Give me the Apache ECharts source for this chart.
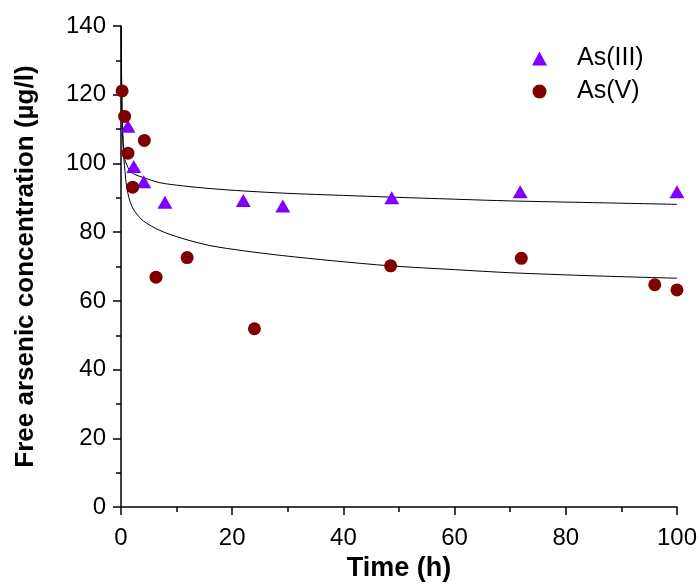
<!DOCTYPE html>
<html>
<head>
<meta charset="utf-8">
<script src="https://cdn.jsdelivr.net/npm/echarts@6/dist/echarts.min.js"></script>
<style>html,body{margin:0;padding:0;background:#fff}#c{width:700px;height:587px}</style>
</head>
<body>
<div id="c"></div>
<script>
// As(III) measured points [time h, concentration µg/l]
var as3Time = [1.25, 2.3, 4.1, 7.9, 22.0, 29.1, 48.7, 71.8, 100];
var as3Conc = [110.8, 99.1, 94.7, 88.7, 89.2, 87.6, 90.0, 91.8, 91.8];
// As(V) measured points
var as5Time = [0.2, 0.65, 1.25, 2.1, 4.2, 6.3, 11.9, 24.0, 48.5, 72.0, 96.0, 100];
var as5Conc = [121.1, 113.7, 103.0, 93.1, 106.7, 66.9, 72.6, 51.9, 70.2, 72.4, 64.7, 63.2];
// fitted curves
var fit3Time = [0.03, 0.1, 0.2, 0.4, 0.7, 1.0, 1.6, 2.5, 4, 7, 11, 16, 22, 30, 40, 48.7, 60, 70, 85, 100];
var fit3Conc = [140, 126, 116, 106, 101.2, 99.8, 97.8, 96.8, 95.9, 94.4, 93.5, 92.7, 92.0, 91.3, 90.7, 90.2, 89.6, 89.1, 88.6, 88.1];
var fit5Time = [0.03, 0.1, 0.2, 0.4, 0.7, 1.0, 1.6, 2.5, 4, 7, 11, 16, 22, 29, 38, 48.5, 60, 70, 85, 100];
var fit5Conc = [140, 124, 113, 104, 98, 93.5, 89, 86, 83.3, 80.5, 78.2, 76.1, 74.6, 73.2, 71.7, 70.2, 69.1, 68.2, 67.3, 66.6];

function pairs(xs, ys){ return xs.map(function(x,i){ return [x, ys[i]]; }); }

var chart = echarts.init(document.getElementById('c'), null, {renderer:'canvas'});
var font = 'Liberation Sans, Arial, sans-serif';
chart.setOption({
  animation:false,
  backgroundColor:'#fff',
  grid:{left:121, right:21, top:26, bottom:77, containLabel:false},
  legend:{
    orient:'vertical', left:527, top:41, itemGap:8, itemWidth:15, itemHeight:14,
    data:['As(III)','As(V)'],
    textStyle:{fontFamily:font, fontSize:25, color:'#000', padding:[0,0,0,25]}
  },
  xAxis:{
    type:'value', min:0, max:100, interval:20,
    name:'Time (h)', nameLocation:'middle', nameGap:37,
    nameTextStyle:{fontFamily:font, fontSize:27, fontWeight:'bold', color:'#000'},
    axisLine:{onZero:false, lineStyle:{color:'#000', width:1.5}},
    axisTick:{show:true, inside:false, length:8, lineStyle:{color:'#000', width:1.5}},
    minorTick:{show:true, splitNumber:2, length:5, lineStyle:{color:'#000', width:1.5}},
    axisLabel:{fontFamily:font, fontSize:24, color:'#000', margin:19},
    splitLine:{show:false}
  },
  yAxis:{
    type:'value', min:0, max:140, interval:20,
    name:'Free arsenic concentration (µg/l)', nameLocation:'middle', nameGap:82,
    nameTextStyle:{fontFamily:font, fontSize:26, fontWeight:'bold', color:'#000'},
    axisLine:{onZero:false, lineStyle:{color:'#000', width:1.5}},
    axisTick:{show:true, inside:false, length:8, lineStyle:{color:'#000', width:1.5}},
    minorTick:{show:true, splitNumber:2, length:5, lineStyle:{color:'#000', width:1.5}},
    axisLabel:{fontFamily:font, fontSize:24, color:'#000', margin:15},
    splitLine:{show:false}
  },
  series:[
    {name:'fit3', type:'line', data:pairs(fit3Time, fit3Conc), showSymbol:false, smooth:0.3,
      lineStyle:{color:'#000', width:1}, z:1, silent:true},
    {name:'fit5', type:'line', data:pairs(fit5Time, fit5Conc), showSymbol:false, smooth:0.3,
      lineStyle:{color:'#000', width:1}, z:1, silent:true},
    {name:'As(III)', type:'scatter', data:pairs(as3Time, as3Conc), symbol:'triangle', symbolSize:[15,13],
      itemStyle:{color:'#8000FF', opacity:1}, z:3},
    {name:'As(V)', type:'scatter', data:pairs(as5Time, as5Conc), symbol:'circle', symbolSize:13,
      itemStyle:{color:'#800000', opacity:1}, z:3}
  ]
});
</script>
</body>
</html>
